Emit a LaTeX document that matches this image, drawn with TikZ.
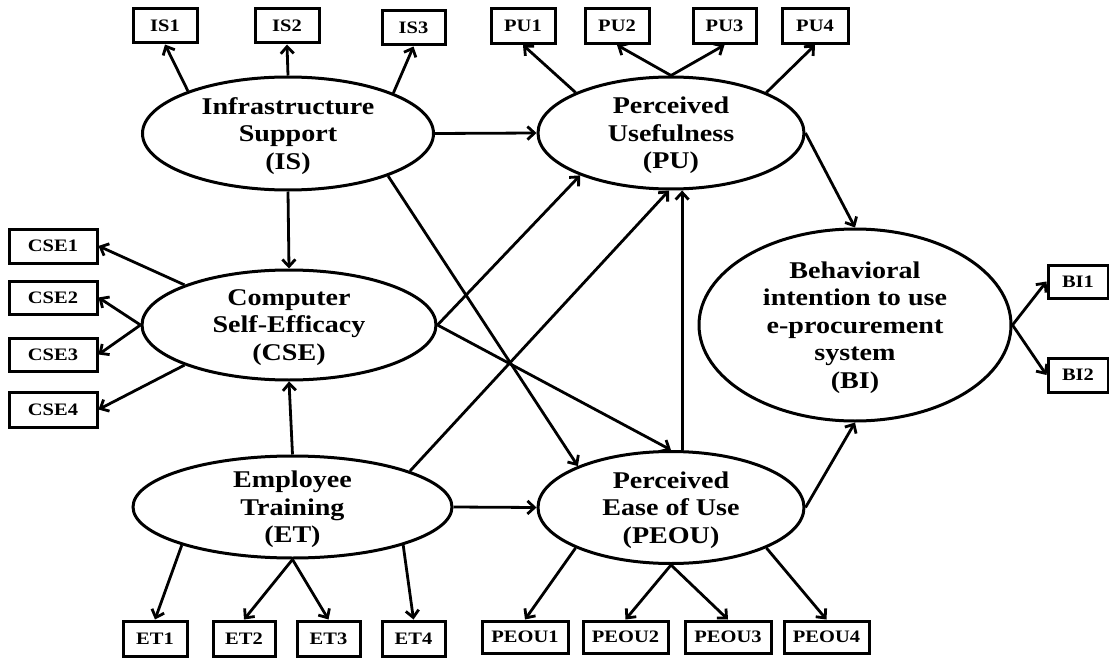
\documentclass[tikz,border=0pt]{standalone}
\usepackage{fontspec}
\setmainfont{Liberation Serif}[FakeStretch=1.17]
\usetikzlibrary{arrows.meta,shapes.geometric}
\begin{document}
\begin{tikzpicture}[x=1pt,y=-1pt,
  latent/.style={draw, ellipse, line width=3pt, inner sep=-6pt, align=center,
    text depth=-3pt, font=\fontsize{24}{27.5}\selectfont\bfseries},
  indicator/.style={draw, rectangle, line width=3pt, inner sep=0pt,
    font=\fontsize{17.5}{18}\selectfont\bfseries},
  link/.style={line width=2.8pt, -{Straight Barb[length=7pt,width=13pt]}},
]
\useasboundingbox (0,0) rectangle (1109,658);

% latent constructs
\node[latent, minimum width=291pt, minimum height=113pt] (IS)   at (288,133.5) {Infrastructure\\Support\\(IS)};
\node[latent, minimum width=266pt, minimum height=112pt] (PU)   at (671,133)   {Perceived\\Usefulness\\(PU)};
\node[latent, minimum width=294pt, minimum height=110pt] (CSE)  at (289,325)   {Computer\\Self-Efficacy\\(CSE)};
\node[latent, minimum width=319pt, minimum height=102pt] (ET)   at (292.5,507) {Employee\\Training\\(ET)};
\node[latent, minimum width=266pt, minimum height=112pt] (PEOU) at (671,507.5) {Perceived\\Ease of Use\\(PEOU)};
\node[latent, minimum width=312pt, minimum height=192pt] (BI)   at (855,325)   {Behavioral\\intention to use\\e-procurement\\system\\(BI)};

% indicators
\node[indicator, minimum width=64pt, minimum height=34pt] (IS1) at (165,26)   {IS1};
\node[indicator, minimum width=64pt, minimum height=34pt] (IS2) at (287,26)   {IS2};
\node[indicator, minimum width=63pt, minimum height=34pt] (IS3) at (413.5,28) {IS3};
\node[indicator, minimum width=64pt, minimum height=35pt] (PU1) at (523,26)   {PU1};
\node[indicator, minimum width=64pt, minimum height=35pt] (PU2) at (617,26)   {PU2};
\node[indicator, minimum width=63pt, minimum height=35pt] (PU3) at (724.5,26) {PU3};
\node[indicator, minimum width=66pt, minimum height=35pt] (PU4) at (815,26)   {PU4};
\node[indicator, minimum width=88pt, minimum height=34pt] (CSE1) at (53,246)   {CSE1};
\node[indicator, minimum width=88pt, minimum height=33pt] (CSE2) at (53,297.5) {CSE2};
\node[indicator, minimum width=88pt, minimum height=33pt] (CSE3) at (53,354.5) {CSE3};
\node[indicator, minimum width=88pt, minimum height=35pt] (CSE4) at (53,409.5) {CSE4};
\node[indicator, minimum width=64pt, minimum height=35pt] (ET1) at (155,638.5)   {ET1};
\node[indicator, minimum width=62pt, minimum height=35pt] (ET2) at (244,638.5)   {ET2};
\node[indicator, minimum width=63pt, minimum height=35pt] (ET3) at (328.5,638.5) {ET3};
\node[indicator, minimum width=63pt, minimum height=35pt] (ET4) at (413.5,638.5) {ET4};
\node[indicator, minimum width=86pt, minimum height=32pt] (PEOU1) at (525,637)   {PEOU1};
\node[indicator, minimum width=85pt, minimum height=32pt] (PEOU2) at (625.5,637) {PEOU2};
\node[indicator, minimum width=86pt, minimum height=32pt] (PEOU3) at (728,637)   {PEOU3};
\node[indicator, minimum width=85pt, minimum height=32pt] (PEOU4) at (826.5,637) {PEOU4};
\node[indicator, minimum width=60pt, minimum height=33pt] (BI1) at (1078,281.5) {BI1};
\node[indicator, minimum width=60pt, minimum height=34pt] (BI2) at (1078,375)   {BI2};

% measurement paths
\draw[link] (IS.157) -- (IS1.south);
\draw[link] (IS.north) -- (IS2.south);
\draw[link] (IS.21) -- (IS3.south);
\draw[link] (PU.157) -- (PU1.south);
\draw[link] (PU.north) -- (PU2.south);
\draw[link] (PU.north) -- (PU3.south);
\draw[link] (PU.23) -- (PU4.south);
\draw[link] (CSE.159) -- (CSE1.east);
\draw[link] (CSE.west) -- (CSE2.east);
\draw[link] (CSE.west) -- (CSE3.east);
\draw[link] (CSE.201) -- (CSE4.east);
\draw[link] (ET.199) -- (ET1.north);
\draw[link] (ET.south) -- (ET2.north);
\draw[link] (ET.south) -- (ET3.north);
\draw[link] (ET.341) -- (ET4.north);
\draw[link] (PEOU.203) -- (PEOU1.north);
\draw[link] (PEOU.south) -- (PEOU2.north);
\draw[link] (PEOU.south) -- (PEOU3.north);
\draw[link] (PEOU.337) -- (PEOU4.north);
\draw[link] (BI.east) -- (BI1.west);
\draw[link] (BI.east) -- (BI2.west);

% structural paths
\draw[link] (IS.east) -- (PU.west);
\draw[link] (IS.south) -- (CSE.north);
\draw[link] (IS.337) -- (PEOU.156);
\draw[link] (CSE.east) -- (PU.205);
\draw[link] (CSE.east) -- (PEOU.north);
\draw[link] (ET.north) -- (CSE.south);
\draw[link] (ET.17) -- (PU.268);
\draw[link] (ET.east) -- (PEOU.west);
\draw[link] (PEOU.79) -- (PEOU.79 |- PU.south);
\draw[link] (PU.east) -- (BI.north);
\draw[link] (PEOU.east) -- (BI.south);
\end{tikzpicture}
\end{document}
